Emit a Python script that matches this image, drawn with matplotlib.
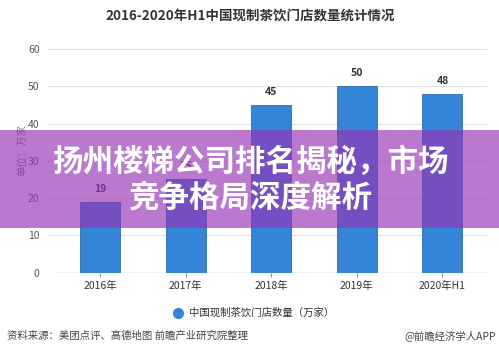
import matplotlib
matplotlib.use("Agg")
import matplotlib.pyplot as plt
from matplotlib.patches import Rectangle
from matplotlib.lines import Line2D

plt.rcParams['font.family'] = ['Noto Sans CJK SC', 'DejaVu Sans']

categories = ["2016年", "2017年", "2018年", "2019年", "2020年H1"]
values = [19, 25, 45, 50, 48]
yticks = [0, 10, 20, 30, 40, 50, 60]
title = "2016-2020年H1中国现制茶饮门店数量统计情况"
ylabel = "单位：万家"
legend_label = "中国现制茶饮门店数量（万家）"
source = "资料来源：美团点评、高德地图 前瞻产业研究院整理"
credit = "@前瞻经济学人APP"
banner_lines = ["扬州楼梯公司排名揭秘，市场", "竞争格局深度解析"]

W, H = 499, 358
fig = plt.figure(figsize=(W / 100, H / 100), dpi=100)
fig.patch.set_facecolor("white")

ax = fig.add_axes([48 / W, 1 - 272.7 / H, (487 - 48) / W, (272.7 - 49) / H])
x = list(range(len(categories)))
ax.bar(x, values, width=0.467, color="#3485d7", edgecolor="#2b6cb0", linewidth=0.6, zorder=3)
for xi, v in zip(x, values):
    ax.text(xi, v + 2.2, str(v), ha="center", va="bottom", fontsize=7.5,
            fontweight="bold", color="#333333", zorder=4)

ax.set_xlim(-0.607, 4.52)
ax.set_ylim(0, 60)
ax.set_yticks(yticks)
ax.set_yticklabels([str(t) for t in yticks], fontsize=7.5, color="#555555")
for t in yticks[1:]:
    ax.axhline(t, color="#e2e2e2", linewidth=0.8, zorder=1)
ax.hlines(0, -0.5, 4.52, color="#999999", linewidth=0.9, zorder=2)
ax.set_xticks(x)
ax.set_xticklabels(categories, fontsize=7.5, color="#333333")
ax.tick_params(axis="y", length=0, pad=6)
ax.tick_params(axis="x", length=3, color="#999999", pad=3)
for s in ax.spines.values():
    s.set_visible(False)
ax.set_facecolor("none")

fig.text(250 / W, 1 - 17 / H, title, ha="center", va="center", fontsize=9.7,
         fontweight="bold", color="#333333")
fig.text(22 / W, 1 - 150 / H, ylabel, ha="center", va="center", rotation=90,
         fontsize=7.5, color="#777777")

# legend
fig.add_artist(Line2D([178 / W], [1 - 313 / H], marker="o", markersize=7,
                      color="#3485d7", linestyle="none"))
fig.text(189 / W, 1 - 313 / H, legend_label, ha="left", va="center",
         fontsize=7.5, color="#333333")

fig.text(7 / W, 1 - 336 / H, source, ha="left", va="center", fontsize=7.5, color="#444444")
fig.text(496 / W, 1 - 336 / H, credit, ha="right", va="center", fontsize=7.5, color="#444444")

# banner overlay
banner = Rectangle((0, 1 - 228 / H), 1, 98 / H, transform=fig.transFigure,
                   facecolor=(150 / 255, 52 / 255, 182 / 255), alpha=0.66,
                   edgecolor="none", zorder=5)
fig.add_artist(banner)
fig.text(250 / W, 1 - 162 / H, banner_lines[0], ha="center", va="center",
         fontsize=22, fontweight="heavy", color="white", zorder=6)
fig.text(250 / W, 1 - 197 / H, banner_lines[1], ha="center", va="center",
         fontsize=22, fontweight="heavy", color="white", zorder=6)

fig.savefig("out.png", dpi=100)
